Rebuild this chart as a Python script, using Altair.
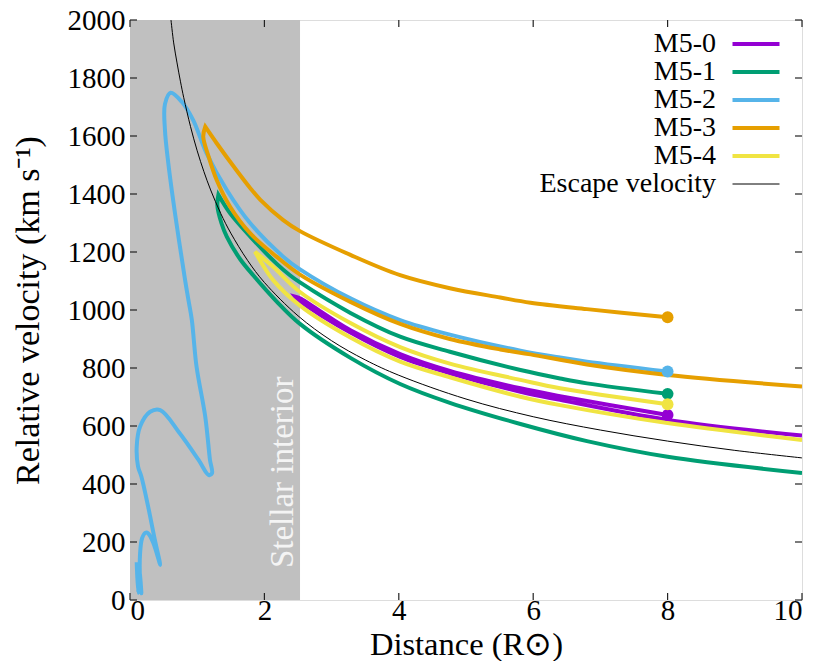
import altair as alt
import pandas as pd

FONT = "Liberation Serif"
FS = 29      # tick labels
FT = 32.5    # axis titles
FK = 28      # key labels

names = ["M5-0", "M5-1", "M5-2", "M5-3", "M5-4", "Escape velocity"]
colors = ["#9400d3", "#009e73", "#56b4e9", "#e69f00", "#f0e442", "#000000"]

x_ticks = [0, 2, 4, 6, 8, 10]
y_ticks = [0, 200, 400, 600, 800, 1000, 1200, 1400, 1600, 1800, 2000]

# Stellar interior extent (R_sun)
interior_x = [0.0, 2.53]
interior_label = "Stellar interior"

# Escape velocity
esc_x = [0.61, 0.65, 0.7, 0.75, 0.8, 0.9, 1.0, 1.1, 1.2, 1.35, 1.5, 1.75, 2.0, 2.5, 3.0, 3.5, 4.0, 5.0, 6.0, 7.0, 8.0, 9.0, 10.0]
esc_v = [2000, 1921, 1852, 1789, 1732, 1633, 1549, 1477, 1414, 1333, 1265, 1171, 1095, 980, 894, 828, 775, 693, 632, 586, 548, 516, 490]

# M5-0 (purple)
m50_up_x = [8.0, 6.4, 5.81, 4.76, 4.02, 3.28, 2.53, 2.46]
m50_up_v = [638, 703, 730, 790, 848, 930, 1040, 1046]
m50_lo_x = [2.46, 2.53, 3.28, 4.02, 4.76, 5.81, 6.4, 8.0, 10.0]
m50_lo_v = [1046, 1030, 922, 838, 782, 718, 690, 621, 567]

# M5-1 (green)
m51_up_x = [8.0, 6.8, 6.4, 5.81, 4.76, 4.02, 3.28, 2.53, 2.38, 2.18, 1.79, 1.49, 1.315]
m51_up_v = [711, 747, 764, 793, 856, 908, 990, 1095, 1120, 1160, 1253, 1333, 1397]
m51_lo_x = [1.315, 1.30, 1.36, 1.44, 1.64, 1.84, 2.18, 2.53, 3.28, 4.02, 4.76, 5.81, 6.8, 8.0, 10.0]
m51_lo_v = [1397, 1360, 1300, 1253, 1175, 1118, 1030, 952, 835, 745, 680, 607, 548, 494, 438]

# M5-2 (blue)
m52_x = [8.0, 6.8, 6.4, 5.81, 4.76, 4.02, 3.28, 2.53, 2.28, 1.79, 1.44, 1.14, 0.94, 0.77, 0.605,
         0.52, 0.52, 0.57, 0.67, 0.82, 0.87, 0.92, 0.99, 1.12, 1.19, 1.22, 1.17, 1.02, 0.74, 0.45,
         0.30, 0.15, 0.10, 0.12, 0.17, 0.27, 0.37, 0.45, 0.35, 0.27, 0.23, 0.18, 0.15, 0.15, 0.17,
         0.14, 0.12, 0.10]
m52_v = [788, 822, 836, 860, 915, 965, 1040, 1140, 1184, 1299, 1414, 1540, 1655, 1718, 1749,
         1710, 1621, 1506, 1333, 1103, 1034, 966, 805, 632, 483, 437, 431, 483, 575, 655,
         649, 598, 529, 460, 425, 322, 207, 121, 195, 230, 232, 213, 161, 69, 23,
         100, 25, 130]

# M5-3 (orange)
m53_up_x = [8.0, 6.8, 5.96, 5.51, 4.76, 4.02, 3.28, 2.53, 2.28, 1.94, 1.79, 1.59, 1.29, 1.12]
m53_up_v = [975, 1003, 1025, 1043, 1075, 1120, 1190, 1272, 1310, 1380, 1420, 1480, 1575, 1632]
m53_lo_x = [1.12, 1.09, 1.17, 1.29, 1.49, 1.79, 2.18, 2.53, 3.28, 4.02, 4.76, 5.51, 5.96, 6.8, 8.0, 10.0]
m53_lo_v = [1632, 1598, 1529, 1448, 1356, 1264, 1184, 1122, 1028, 952, 900, 864, 847, 812, 776, 736]

# M5-4 (yellow)
m54_up_x = [8.0, 6.4, 5.81, 4.76, 4.02, 3.28, 2.53, 2.13, 1.86]
m54_up_v = [675, 730, 759, 815, 872, 955, 1062, 1149, 1201]
m54_lo_x = [1.86, 1.95, 2.13, 2.53, 3.28, 4.02, 4.76, 5.81, 6.4, 8.0, 10.0]
m54_lo_v = [1201, 1165, 1103, 1015, 905, 822, 768, 701, 672, 610, 552]

paths = [
    ("M5-0", [(m50_up_x, m50_up_v), (m50_lo_x, m50_lo_v)]),
    ("M5-1", [(m51_up_x, m51_up_v), (m51_lo_x, m51_lo_v)]),
    ("M5-2", [(m52_x, m52_v)]),
    ("M5-3", [(m53_up_x, m53_up_v), (m53_lo_x, m53_lo_v)]),
    ("M5-4", [(m54_up_x, m54_up_v), (m54_lo_x, m54_lo_v)]),
]

rows = []
for name, segs in paths:
    k = 0
    for xs_, vs_ in segs:
        for x, v in zip(xs_, vs_):
            rows.append({"series": name, "path": name, "order": k, "x": x, "v": v})
            k += 1
lines_df = pd.DataFrame(rows)

esc_df = pd.DataFrame({"series": "Escape velocity", "order": range(len(esc_x)), "x": esc_x, "v": esc_v})

# end points (dots) at the first point of each model path
dots_df = pd.DataFrame([
    {"series": name, "x": segs[0][0][0], "v": segs[0][1][0], "color": colors[names.index(name)]}
    for name, segs in paths
])

interior_df = pd.DataFrame({"x0": [interior_x[0]], "x1": [interior_x[1]], "y0": [0], "y1": [2000]})
label_df = pd.DataFrame({"x": [2.28], "v": [110], "t": [interior_label]})
xt_df = pd.DataFrame({"xt": x_ticks})
yt_df = pd.DataFrame({"yt": y_ticks})

xs = alt.Scale(domain=[0, 10], nice=False, zero=False)
ys = alt.Scale(domain=[0, 2000], nice=False, zero=False)

axis_common = dict(
    grid=False, domain=False, ticks=False, offset=-7, tickSize=7,
    zindex=1, format="d",
    labelFont=FONT, labelFontSize=FS, labelColor="black",
    titleFont=FONT, titleFontWeight="normal", titleColor="black",
)

x_bottom = alt.Axis(orient="bottom", values=x_ticks, labelPadding=3,
                    title="Distance (R\u2299)", titleFontSize=FT,
                    titleBaseline="alphabetic", titlePadding=29, **axis_common)
y_left = alt.Axis(orient="left", values=y_ticks, labelPadding=12,
                  title="Relative velocity (km s\u207b\u00b9)", titleFontSize=34,
                  titlePadding=22, **axis_common)

legend = alt.Legend(
    title=None, orient="none", legendX=612, legendY=10,
    symbolType="stroke", symbolSize=47 * 47, symbolOffset=0,
    symbolStrokeWidth={"expr": "datum.value === 'Escape velocity' ? 1 : 4"},
    labelAlign="right", labelOffset={"expr": "-54"}, labelFont=FONT, labelFontSize=FK,
    labelColor="black", padding=0, rowPadding=0, labelLimit=500,
)

color_enc = alt.Color("series:N", scale=alt.Scale(domain=names, range=colors), legend=legend)

interior = alt.Chart(interior_df).mark_rect(color="#c0c0c0").encode(
    x=alt.X("x0:Q", scale=xs, axis=x_bottom),
    x2="x1:Q",
    y=alt.Y("y0:Q", scale=ys, axis=y_left),
    y2="y1:Q",
)

label = alt.Chart(label_df).mark_text(
    angle=270, align="left", baseline="middle", font=FONT, fontSize=33, color="#f4f4f4"
).encode(
    x=alt.X("x:Q", scale=xs, axis=None),
    y=alt.Y("v:Q", scale=ys, axis=None),
    text="t:N",
)

model_lines = alt.Chart(lines_df).mark_line(
    clip=True, strokeWidth=4, interpolate="catmull-rom"
).encode(
    x=alt.X("x:Q", scale=xs, axis=None),
    y=alt.Y("v:Q", scale=ys, axis=None),
    color=color_enc,
    detail="path:N",
    order="order:Q",
)

dots = alt.Chart(dots_df).mark_circle(size=140, opacity=1).encode(
    x=alt.X("x:Q", scale=xs, axis=None),
    y=alt.Y("v:Q", scale=ys, axis=None),
    color=alt.Color("color:N", scale=None),
)

escape = alt.Chart(esc_df).mark_line(clip=True, strokeWidth=1, interpolate="catmull-rom").encode(
    x=alt.X("x:Q", scale=xs, axis=None),
    y=alt.Y("v:Q", scale=ys, axis=None),
    color=color_enc,
    order="order:Q",
)

# inward tick marks on all four sides (gnuplot style)
TICK = dict(color="#222222", strokeWidth=1.2)
ticks_bottom = alt.Chart(xt_df).mark_rule(**TICK).encode(
    x=alt.X("xt:Q", scale=xs, axis=None), y=alt.value(580), y2=alt.value(573))
ticks_top = alt.Chart(xt_df).mark_rule(**TICK).encode(
    x=alt.X("xt:Q", scale=xs, axis=None), y=alt.value(0), y2=alt.value(7))
ticks_left = alt.Chart(yt_df).mark_rule(**TICK).encode(
    y=alt.Y("yt:Q", scale=ys, axis=None), x=alt.value(0), x2=alt.value(7))
ticks_right = alt.Chart(yt_df).mark_rule(**TICK).encode(
    y=alt.Y("yt:Q", scale=ys, axis=None), x=alt.value(672), x2=alt.value(665))

chart = alt.layer(
    interior, label, model_lines, dots, escape,
    ticks_bottom, ticks_top, ticks_left, ticks_right,
).resolve_axis(
    x="independent", y="independent"
).properties(
    width=672, height=580,
    autosize=alt.AutoSizeParams(type="none"),
    padding={"left": 122, "top": 12, "right": 20, "bottom": 61},
).configure_view(
    stroke="black", strokeWidth=1.2
).configure(background="white")

chart.save("out.html", embed_options={"renderer": "svg", "actions": False})
